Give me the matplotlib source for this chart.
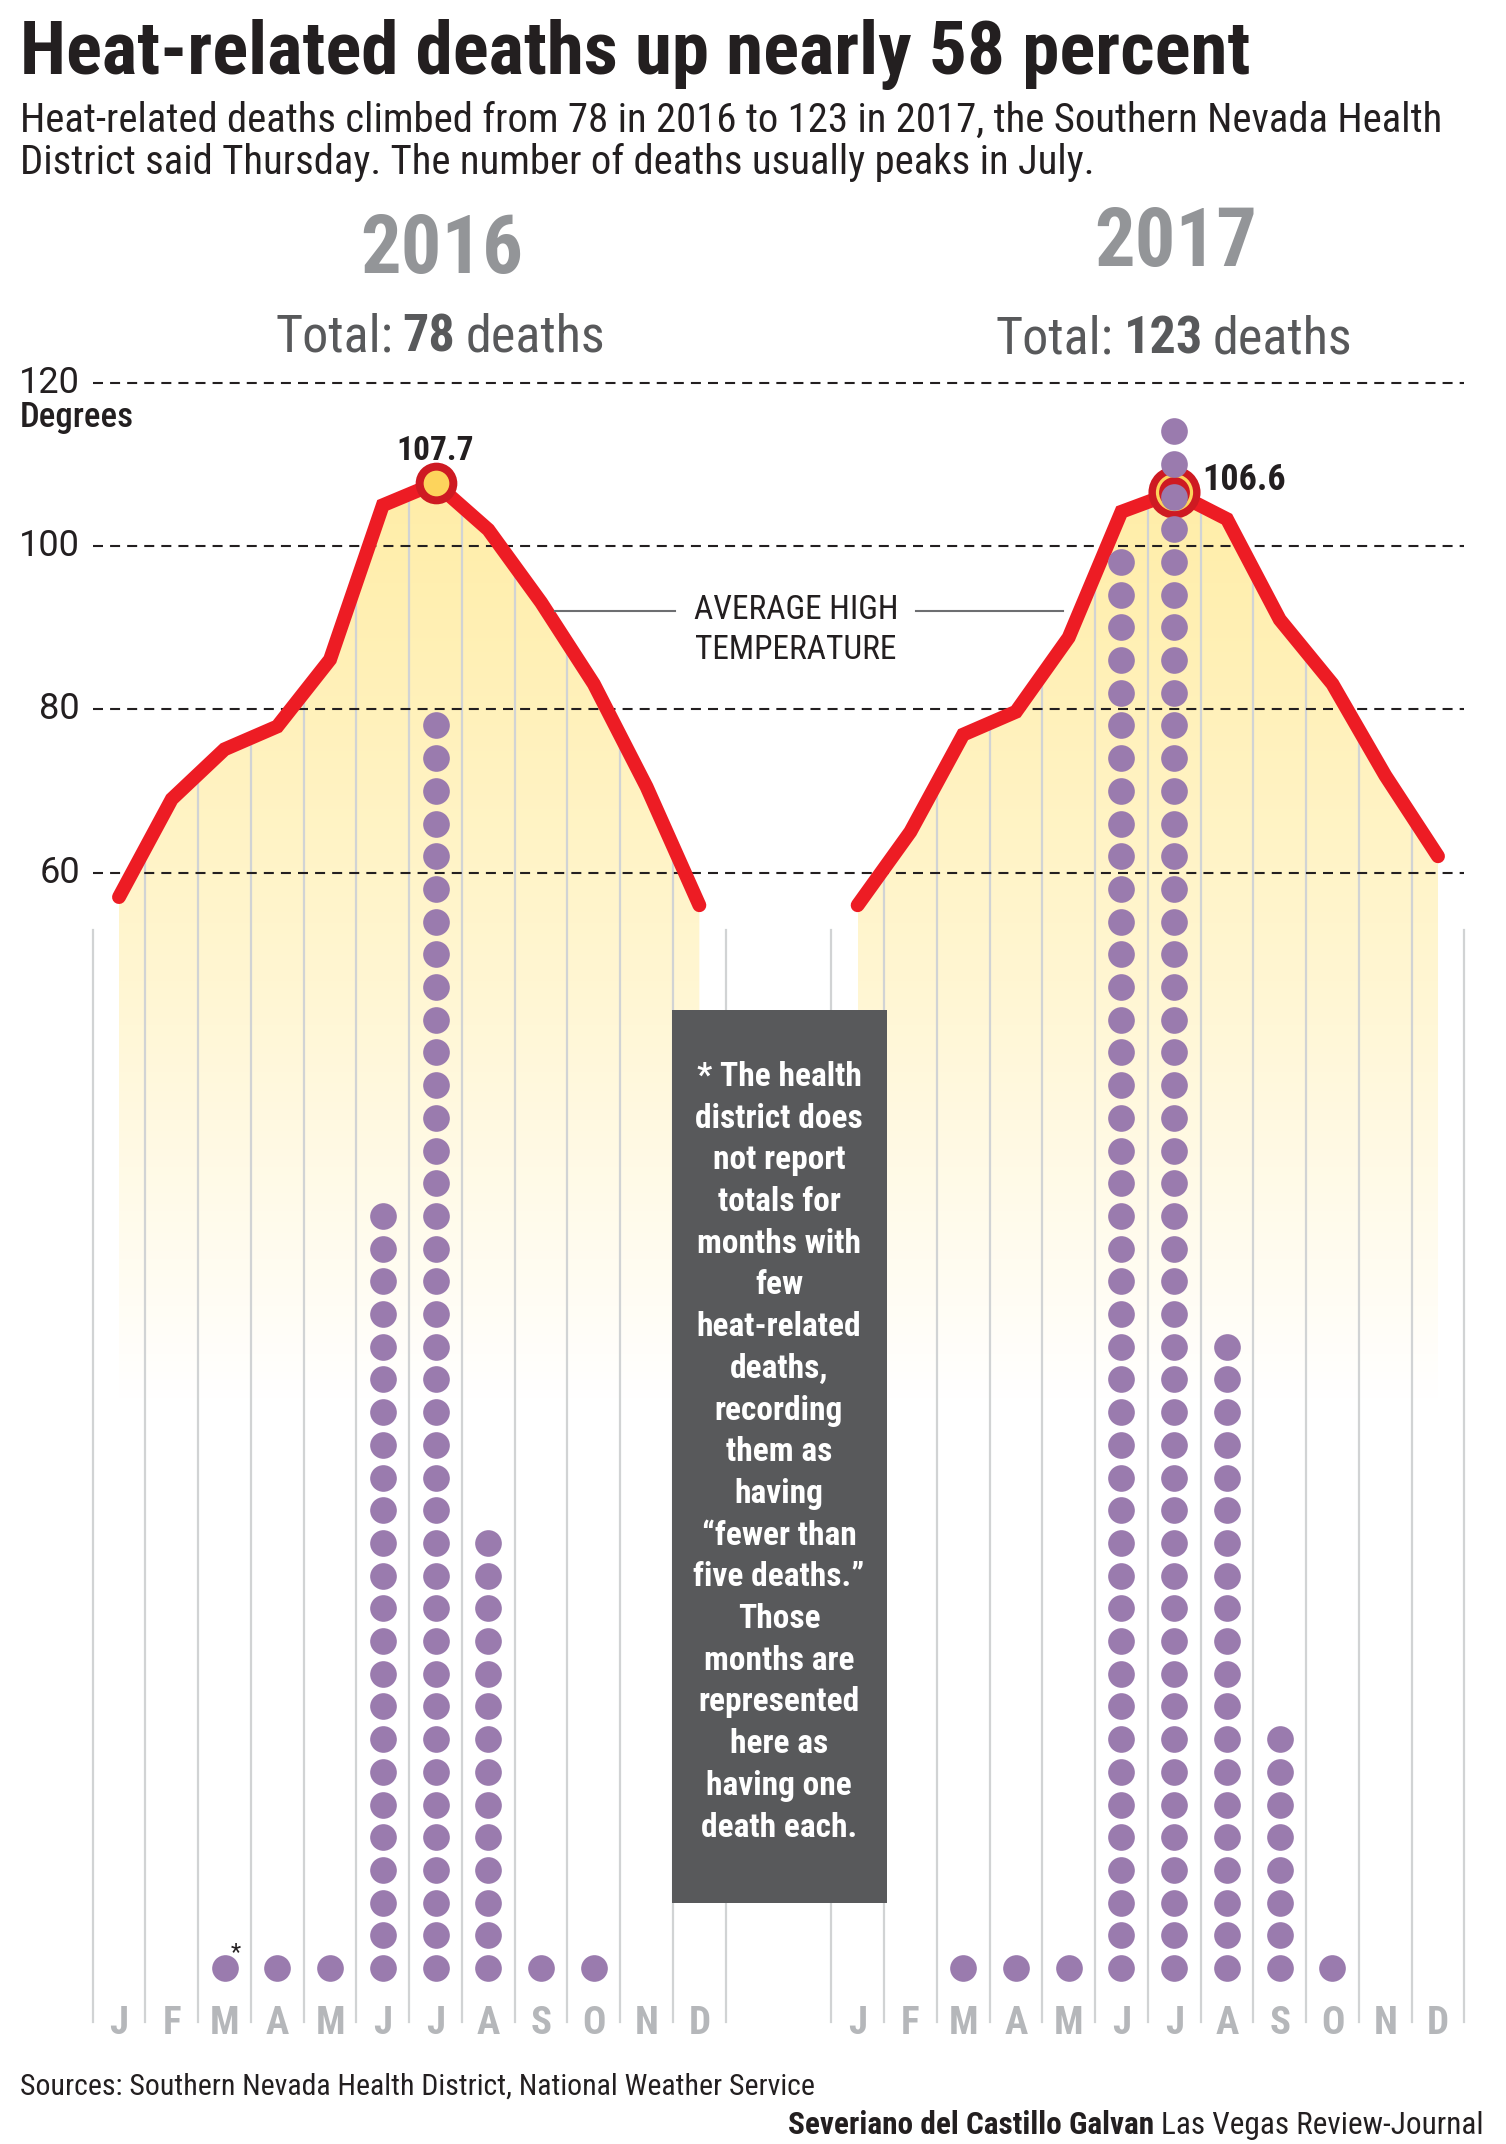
import numpy as np
import matplotlib.pyplot as plt
from matplotlib import transforms
from matplotlib.colors import LinearSegmentedColormap
from matplotlib.patches import Polygon, Rectangle
from matplotlib.lines import Line2D
from matplotlib.offsetbox import TextArea, HPacker, AnnotationBbox

# ---- data -------------------------------------------------------------
MONTHS = ["J", "F", "M", "A", "M", "J", "J", "A", "S", "O", "N", "D"]
YEARS = ["2016", "2017"]
TOTALS = ["78", "123"]
TEMP_2016 = [57.0, 69.0, 75.1, 77.9, 86.1, 105.0, 107.7, 102.0, 93.1, 83.1, 70.5, 56.0]
TEMP_2017 = [56.0, 65.0, 76.9, 79.7, 88.8, 104.2, 106.6, 103.3, 91.0, 83.1, 71.9, 62.0]
DEATHS_2016 = [0, 0, 1, 1, 1, 24, 39, 14, 1, 1, 0, 0]
DEATHS_2017 = [0, 0, 1, 1, 1, 44, 48, 20, 8, 1, 0, 0]
PEAK_LABELS = ["107.7", "106.6"]
GRID_TEMPS = [120, 100, 80, 60]
NOTE_LINES = ["* The health", "district does", "not report", "totals for",
              "months with", "few", "heat-related", "deaths,", "recording",
              "them as", "having", "\u201cfewer than", "five deaths.\u201d",
              "Those", "months are", "represented", "here as",
              "having one", "death each."]

# ---- style ------------------------------------------------------------
W, H = 1506, 2144
plt.rcParams["font.family"] = ["Roboto Condensed", "Roboto", "DejaVu Sans"]
WIDE = ["Roboto", "DejaVu Sans"]
RED = "#ED1C24"
DARK_RED = "#CE1A22"
PURPLE = "#9A7BAE"
INK = "#231F20"
GREY_TXT = "#58595B"
YEAR_GREY = "#939598"
RULE = "#D1D3D4"
LETTER = "#B5B7BA"
YELLOW = "#FDD45C"

# layout in reference pixels
X0_PX, STEP_PX = 119, 52.76          # January 2016 centre, month step
Y120_PX, PX_PER_DEG = 382.8, 8.163   # temperature scale
BASE_PX, DOT_PX = 1968, 32.7         # first dot centre, dot pitch
OFFSET_2017 = 14                     # 2017 January sits 14 steps right


def fx(x):
    return x / W


def fy(y):
    return 1 - y / H


def temp_at(ypx):
    return 120 - (ypx - Y120_PX) / PX_PER_DEG


fig = plt.figure(figsize=(W / 100, H / 100), dpi=100)
fig.patch.set_facecolor("white")
ax = fig.add_axes([0, 0, 1, 1])
axd = ax.twinx()
for a in (ax, axd):
    a.axis("off")

xl = (-X0_PX / STEP_PX, (W - X0_PX) / STEP_PX)
blend = transforms.blended_transform_factory(ax.transData, fig.transFigure)
yblend = transforms.blended_transform_factory(fig.transFigure, ax.transData)

cmap = LinearSegmentedColormap.from_list(
    "heat", [(0, "#FFFFFF"), (0.45, "#FFF6D2"), (1, "#FFEDA6")])
grad = np.linspace(0, 1, 256).reshape(-1, 1)

series = [(TEMP_2016, DEATHS_2016, 0), (TEMP_2017, DEATHS_2017, OFFSET_2017)]
bottom_t = temp_at(2022)
outer_top = temp_at(930)

for temps, deaths, off in series:
    xs = np.arange(len(MONTHS)) + off
    # yellow gradient under the curve
    verts = list(zip(xs, temps)) + [(xs[-1], -20), (xs[0], -20)]
    poly = Polygon(verts, closed=True, facecolor="none", edgecolor="none",
                   transform=ax.transData)
    im = ax.imshow(grad, extent=(xs[0], xs[-1], -5, 110), origin="lower",
                   aspect="auto", cmap=cmap, zorder=1, interpolation="bilinear")
    im.set_clip_path(poly)
    # month rules
    edges = np.arange(len(MONTHS) + 1) + off - 0.5
    for e in edges:
        if xs[0] < e < xs[-1]:
            top = np.interp(e, xs, temps)
        else:
            top = outer_top
        ax.plot([e, e], [bottom_t, top], color=RULE, lw=1.6, zorder=2)
    # temperature line
    ax.plot(xs, temps, color=RED, lw=10, solid_capstyle="round",
            solid_joinstyle="miter", zorder=4)
    # month letters
    for x, m in zip(xs, MONTHS):
        ax.text(x, fy(2024), m, transform=blend, ha="center", va="center",
                fontsize=28, fontweight="bold", color=LETTER, zorder=6)
    # deaths as dots
    dx, dy = [], []
    for x, n in zip(xs, deaths):
        dx += [x] * n
        dy += list(range(1, n + 1))
    axd.scatter(dx, dy, s=19.2 ** 2, color=PURPLE, linewidths=0, zorder=5)

# dashed temperature grid
for t in GRID_TEMPS:
    ax.plot([-0.5, OFFSET_2017 + len(MONTHS) - 0.5], [t, t], color=INK,
            lw=1.5, linestyle=(0, (4.8, 3.4)), zorder=3)
    ax.text(fx(80), t, str(t), transform=yblend, ha="right", va="center",
            fontsize=26, color=INK, family=WIDE)
fig.text(fx(20), fy(418), "Degrees", ha="left", va="center", fontsize=25,
         fontweight="medium", color=INK)

# peak markers
i16 = int(np.argmax(TEMP_2016))
i17 = int(np.argmax(TEMP_2017))
ax.plot(i16, TEMP_2016[i16], "o", ms=30, mfc=DARK_RED, mec="none", zorder=5)
ax.plot(i16, TEMP_2016[i16], "o", ms=18.5, mfc=YELLOW, mec="none", zorder=6)
ax.annotate(PEAK_LABELS[0], (i16, TEMP_2016[i16]), xytext=(0, 23),
            textcoords="offset points", ha="center", va="center",
            fontsize=24, fontweight="bold", color=INK)
x17 = i17 + OFFSET_2017
ax.plot(x17, TEMP_2017[i17], "o", ms=37.5, mfc=DARK_RED, mec="none", zorder=5)
ax.plot(x17, TEMP_2017[i17], "o", ms=24.5, mfc="none", mec=YELLOW, mew=2.3,
        zorder=6)
ax.annotate(PEAK_LABELS[1], (x17, TEMP_2017[i17]), xytext=(20, 9),
            textcoords="offset points", ha="left", va="center",
            fontsize=26, fontweight="bold", color=INK)

# asterisk on the first "fewer than five" month
first_small = DEATHS_2016.index(1)
axd.annotate("*", (first_small, 1), xytext=(8, 11), textcoords="offset points",
             ha="center", va="center", fontsize=17, color=INK)

ax.set_xlim(*xl)
ax.set_ylim(temp_at(H), temp_at(0))
axd.set_ylim(1 - (H - BASE_PX) / DOT_PX, 1 + BASE_PX / DOT_PX)

# annotation for the line
fig.text(fx(796), fy(630), "AVERAGE HIGH\nTEMPERATURE", ha="center",
         va="center", fontsize=24, color=INK, linespacing=1.3)
for x0, x1 in [(555, 675), (916, 1063)]:
    fig.add_artist(Line2D([fx(x0), fx(x1)], [fy(611), fy(611)],
                          transform=fig.transFigure, color="#6D6E71", lw=1.5))

# note box
fig.add_artist(Rectangle((fx(672), fy(1903)), fx(887) - fx(672),
                         fy(1010) - fy(1903), transform=fig.transFigure,
                         facecolor=GREY_TXT, edgecolor="none", zorder=5))
for k, line in enumerate(NOTE_LINES):
    fig.text(fx(779), fy(1077 + k * 41.7), line, ha="center", va="center",
             fontsize=24, fontweight="bold", color="white", zorder=6)

# year headers
for (cx, cy, ty), yr, tot in zip([(442, 251, 337), (1176, 244, 339)],
                                 YEARS, TOTALS):
    fig.text(fx(cx), fy(cy), yr, ha="center", va="center", fontsize=58,
             fontweight="bold", color=YEAR_GREY)
    parts = [TextArea("Total:", textprops=dict(fontsize=37.5, color=GREY_TXT)),
             TextArea(tot, textprops=dict(fontsize=37.5, color=GREY_TXT,
                                          fontweight="bold")),
             TextArea("deaths", textprops=dict(fontsize=37.5, color=GREY_TXT))]
    pack = HPacker(children=parts, align="baseline", pad=0, sep=7)
    fig.add_artist(AnnotationBbox(pack, (fx(cx - 2), fy(ty)),
                                  xycoords="figure fraction",
                                  box_alignment=(0.5, 0.5), frameon=False))

# title block
fig.text(fx(20), fy(74), "Heat-related deaths up nearly 58 percent",
         ha="left", va="baseline", fontsize=54, fontweight="bold", color=INK)
fig.text(fx(20), fy(132),
         "Heat-related deaths climbed from 78 in 2016 to 123 in 2017, "
         "the Southern Nevada Health", ha="left", va="baseline",
         fontsize=29.3, color=INK)
fig.text(fx(20), fy(174),
         "District said Thursday. The number of deaths usually peaks in July.",
         ha="left", va="baseline", fontsize=29.3, color=INK)

# footer
fig.text(fx(20), fy(2087), "Sources: Southern Nevada Health District, "
         "National Weather Service", ha="left", va="center", fontsize=21.5,
         color=INK)
credit = HPacker(children=[
    TextArea("Severiano del Castillo Galvan",
             textprops=dict(fontsize=22.5, fontweight="bold", color=INK)),
    TextArea("Las Vegas Review-Journal",
             textprops=dict(fontsize=22.5, color=INK))],
    align="baseline", pad=0, sep=5)
fig.add_artist(AnnotationBbox(credit, (fx(1484), fy(2125)),
                              xycoords="figure fraction",
                              box_alignment=(1, 0.5), frameon=False))

fig.savefig("out.png", dpi=100, facecolor="white")
